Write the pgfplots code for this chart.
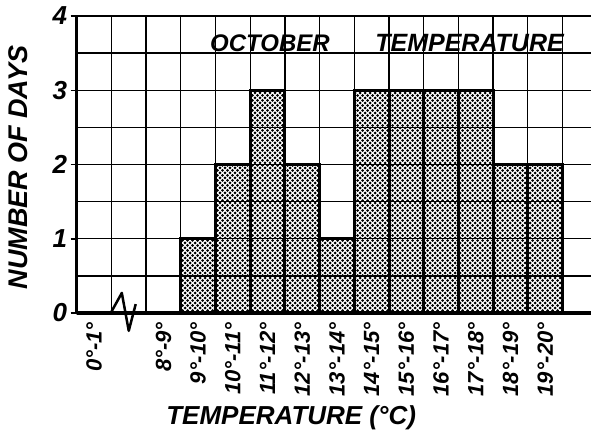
\documentclass[border=0pt]{standalone}
\usepackage{fontspec}
\setmainfont{Liberation Sans}
\usepackage{pgfplots}
\usepackage{pgfplotstable}
\pgfplotsset{compat=1.18}
\usetikzlibrary{patterns}

% dense staggered dot screen for the bars
\pgfdeclarepatternformonly{octdots}{\pgfpoint{-1.6bp}{-1.6bp}}{\pgfpoint{4.1bp}{4.1bp}}{\pgfpoint{5bp}{5bp}}{%
  \pgfpathcircle{\pgfpoint{0bp}{0bp}}{1.5bp}%
  \pgfpathcircle{\pgfpoint{2.5bp}{2.5bp}}{1.5bp}%
  \pgfusepath{fill}}

% number of October days in each one-degree class
\pgfplotstableread{
x    days
0.5  0
2.5  0
3.5  1
4.5  2
5.5  3
6.5  2
7.5  1
8.5  3
9.5  3
10.5 3
11.5 3
12.5 2
13.5 2
}\octdata

\newcommand{\hand}[1]{\fontsize{#1}{#1}\selectfont\bfseries\itshape}

\begin{document}
\begin{tikzpicture}
\useasboundingbox (-76.7bp,-125bp) rectangle (514.3bp,313bp);
\begin{axis}[
  scale only axis,
  width=514.3bp, height=297bp,
  xmin=0, xmax=14.82, ymin=0, ymax=4,
  clip=false,
  axis on top,
  axis x line*=bottom, axis y line*=left,
  axis line style={line width=3.5bp, -},
  xtick={0.5,2.5,3.5,4.5,5.5,6.5,7.5,8.5,9.5,10.5,11.5,12.5,13.5},
  xticklabels={0°-1°,8°-9°,9°-10°,10°-11°,11°-12°,12°-13°,13°-14°,14°-15°,15°-16°,16°-17°,17°-18°,18°-19°,19°-20°},
  minor xtick={0,1,...,14},
  ytick={0,1,2,3,4},
  yticklabels={0,1,2,3,4},
  minor ytick={0.5,1.5,2.5,3.5},
  xmajorgrids=false, xminorgrids=true,
  ymajorgrids=true, yminorgrids=true,
  grid style={black, line width=1.3bp},
  minor grid style={black, line width=1.3bp},
  x tick style={draw=none},
  y tick style={black, line width=1.5bp},
  minor y tick style={draw=none},
  tick align=outside,
  major tick length=6bp,
  xticklabel style={rotate=90, anchor=east, font=\hand{22bp}},
  yticklabel style={font=\hand{26bp}},
  xlabel={TEMPERATURE (°C)},
  xlabel style={at={(axis description cs:0.417,-0.354)}, anchor=center, font=\hand{26bp}},
  ylabel={NUMBER OF DAYS},
  ylabel style={at={(axis description cs:-0.113,0.49)}, anchor=center, font=\hand{27bp}},
]
\addplot[ybar, bar width=1, bar shift=0, draw=black, line width=3bp,
         pattern=octdots, pattern color=black]
  table[x=x, y=days]{\octdata};
% broken-scale mark between the first class and 8 degrees
\draw[line width=2.5bp, line join=round]
  (axis cs:0.98,0) -- (axis cs:1.3,0.27) -- (axis cs:1.5,-0.24) -- (axis cs:1.7,0.12);
\node[anchor=base west, inner sep=0, font=\hand{24bp}] at (axis cs:3.84,3.52) {OCTOBER};
\node[anchor=base west, inner sep=0, font=\hand{25bp}] at (axis cs:8.6,3.52) {TEMPERATURE};
\end{axis}
\end{tikzpicture}
\end{document}
